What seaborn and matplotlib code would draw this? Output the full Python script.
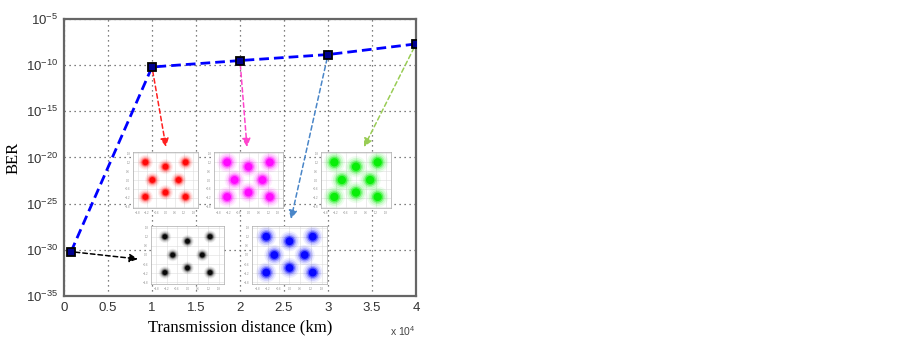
import numpy as np
import pandas as pd
import matplotlib
matplotlib.use('Agg')
import matplotlib.pyplot as plt
import seaborn as sns
from matplotlib.ticker import FixedLocator, MultipleLocator, NullLocator

# BER vs transmission distance
distance = [800, 10000, 20000, 30000, 40000]
ber = [10**-30.2, 10**-10.2, 10**-9.5, 10**-8.85, 10**-7.7]

# 8-point constellation cluster centres
const_i = [-1.3, 0.0, 1.3, -0.85, 0.85, -1.3, 0.0, 1.3]
const_q = [1.2, 0.9, 1.2, 0.0, 0.0, -1.15, -0.85, -1.15]

xtick_vals = [0, 5000, 10000, 15000, 20000, 25000, 30000, 35000, 40000]
xtick_labels = ['0', '0.5', '1', '1.5', '2', '2.5', '3', '3.5', '4']
ytick_exps = [-35, -30, -25, -20, -15, -10, -5]

df = pd.DataFrame({'distance': distance, 'ber': ber})
df_c = pd.DataFrame({'i': const_i, 'q': const_q})

sns.set_style('white')
plt.rcParams['font.family'] = ['Liberation Sans', 'DejaVu Sans']
plt.rcParams['mathtext.fontset'] = 'custom'
plt.rcParams['mathtext.rm'] = 'Liberation Sans'
plt.rcParams['mathtext.it'] = 'Liberation Sans:italic'
plt.rcParams['mathtext.bf'] = 'Liberation Sans:bold'

W, H = 903, 342
fig = plt.figure(figsize=(W / 100, H / 100), dpi=100)


def px_rect(left, top, right, bottom):
    return [left / W, 1 - bottom / H, (right - left) / W, (bottom - top) / H]


ax = fig.add_axes(px_rect(64, 19, 416, 296))
sns.lineplot(data=df, x='distance', y='ber', ax=ax, color='#0000ff', lw=2,
             linestyle=(0, (3.5, 1.8)), marker='s', markersize=6,
             markerfacecolor='#000090', markeredgecolor='black',
             markeredgewidth=1.3, zorder=5)
ax.set_yscale('log')
ax.set_xlim(0, 40000)
ax.set_ylim(1e-35, 1e-5)
ax.xaxis.set_major_locator(FixedLocator(xtick_vals))
ax.set_xticklabels(xtick_labels)
ax.yaxis.set_major_locator(FixedLocator([10.0**e for e in ytick_exps]))
ax.yaxis.set_minor_locator(NullLocator())
ax.set_yticklabels([f'$\\mathregular{{10^{{{e}}}}}$' for e in ytick_exps])
ax.grid(True, which='major', color='#555555', linestyle=(0, (1, 3)), lw=0.9)
ax.tick_params(direction='in', length=4, width=1, colors='#444444',
               labelsize=9.5, labelcolor='#333333', pad=4)
for s in ax.spines.values():
    s.set_color('#666666')
    s.set_linewidth(1.6)
ax.set_xlabel('Transmission distance (km)', family='Liberation Serif',
              fontsize=12, color='black', labelpad=4)
ax.set_ylabel('BER', family='Liberation Serif', fontsize=12, color='black')
ax.yaxis.set_label_coords(-0.12, 0.5)
ax.text(1.0, -0.1, r'x 10$^4$', transform=ax.transAxes, ha='right',
        va='top', fontsize=7.5, color='#444444')

# constellation insets: (rect in image pixels, colour, cluster size)
insets = [
    ((133, 152, 198, 208), '#ff0000', 6.0),
    ((214, 152, 283, 208), '#ff00ff', 8.0),
    ((321, 152, 391, 208), '#00ee00', 8.5),
    ((151, 226, 224, 284), '#000000', 5.0),
    ((252, 226, 327, 284), '#0000ff', 8.0),
]
layers = [(1.8, 0.07), (1.5, 0.12), (1.2, 0.22), (0.95, 0.45), (0.7, 0.9)]
for rect, col, d in insets:
    ia = fig.add_axes(px_rect(*rect))
    for scale, alpha in layers:
        sns.scatterplot(data=df_c, x='i', y='q', ax=ia, color=col,
                        s=(d * scale) ** 2, alpha=alpha, edgecolor='none',
                        legend=False)
    ia.set_xlim(-2.1, 2.1)
    ia.set_ylim(-1.9, 1.9)
    ia.xaxis.set_major_locator(MultipleLocator(0.6))
    ia.yaxis.set_major_locator(MultipleLocator(0.6))
    ia.grid(True, color='#dddddd', lw=0.4)
    ia.set_axisbelow(True)
    ia.tick_params(labelsize=2, length=1, width=0.3, colors='#888888', pad=1)
    ia.set_xlabel('')
    ia.set_ylabel('')
    for s in ia.spines.values():
        s.set_color('#aaaaaa')
        s.set_linewidth(0.5)

# dashed arrows from each data point to its constellation
arrows = [
    (0, (138, 259), 'black'),
    (1, (166, 147), '#ff2020'),
    (2, (247, 147), '#ff44cc'),
    (3, (291, 219), '#4a86c8'),
    (4, (364, 147), '#99cc55'),
]
for k, (hx, hy), col in arrows:
    ax.annotate('', xy=(hx, H - hy), xycoords='figure pixels',
                xytext=(distance[k], ber[k]), textcoords='data',
                arrowprops=dict(arrowstyle='-|>,head_length=0.5,head_width=0.25',
                                linestyle=(0, (3, 2)), color=col, lw=1.1,
                                shrinkA=3, shrinkB=0),
                zorder=4)

fig.savefig('out.png', dpi=100, facecolor='white')
